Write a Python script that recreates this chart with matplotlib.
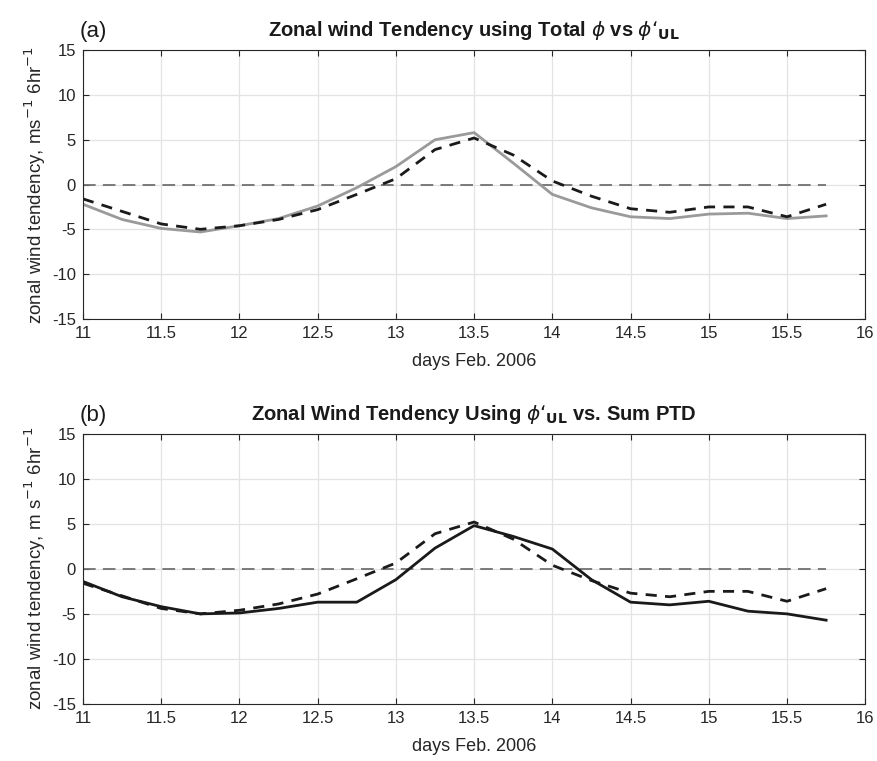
import numpy as np
import matplotlib
matplotlib.use("Agg")
import matplotlib.pyplot as plt

plt.rcParams['font.family'] = ['Liberation Sans', 'DejaVu Sans']
plt.rcParams['axes.unicode_minus'] = False

# days of Feb. 2006, 6-hourly
days = [11.0, 11.25, 11.5, 11.75, 12.0, 12.25, 12.5, 12.75, 13.0, 13.25,
        13.5, 13.75, 14.0, 14.25, 14.5, 14.75, 15.0, 15.25, 15.5, 15.75]

# tendency from total phi (grey solid, panel a)
total_phi = [-2.2, -3.9, -4.9, -5.3, -4.6, -3.8, -2.4, -0.35, 2.0, 5.0,
             5.8, 2.4, -1.1, -2.6, -3.6, -3.8, -3.3, -3.2, -3.8, -3.5]
# tendency from phi'_UL (black dashed, both panels)
phi_ul = [-1.6, -3.0, -4.4, -5.0, -4.6, -3.9, -2.8, -1.1, 0.65, 3.9,
          5.2, 3.3, 0.4, -1.3, -2.7, -3.1, -2.5, -2.5, -3.6, -2.2]
# sum of piecewise tendencies (black solid, panel b)
sum_ptd = [-1.4, -3.1, -4.2, -5.0, -4.9, -4.4, -3.7, -3.7, -1.2, 2.3,
           4.8, 3.6, 2.2, -1.2, -3.7, -4.0, -3.6, -4.7, -5.0, -5.7]

xticks = np.arange(11, 16.01, 0.5)
xticklabels = ['11', '11.5', '12', '12.5', '13', '13.5', '14', '14.5', '15', '15.5', '16']
yticks = [-15, -10, -5, 0, 5, 10, 15]

fig = plt.figure(figsize=(8.77, 7.61), dpi=100)
ax1 = fig.add_axes([0.0946, 0.581, 0.892, 0.353])
ax2 = fig.add_axes([0.0946, 0.075, 0.892, 0.355])


def style(ax, ylabel, title, tag):
    ax.set_xlim(11, 16)
    ax.set_ylim(-15, 15)
    ax.set_xticks(xticks)
    ax.set_xticklabels(xticklabels)
    ax.set_yticks(yticks)
    ax.grid(True, color='#e3e3e3', lw=0.9)
    ax.set_axisbelow(True)
    ax.tick_params(direction='in', top=True, right=True, length=4,
                   width=0.8, color='#262626', labelsize=12,
                   labelcolor='#262626')
    ax.tick_params(axis='x', pad=5)
    ax.tick_params(axis='y', pad=5)
    for s in ax.spines.values():
        s.set_color('#262626')
        s.set_linewidth(0.8)
    ax.set_xlabel('days Feb. 2006', fontsize=13, color='#262626', labelpad=9)
    ax.set_ylabel(ylabel, fontsize=13.5, color='#262626', labelpad=3)
    ax.set_title(title, fontsize=14.5, fontweight='bold', pad=10,
                 color='#1a1a1a')
    ax.text(0.013, 1.048, tag, transform=ax.transAxes, fontsize=16,
            ha='center', va='baseline', color='#1a1a1a')
    # zero reference line
    ax.plot(days, np.zeros(len(days)), color='#707070', lw=1.3,
            dashes=(7, 4), zorder=1.5)


style(ax1, r'zonal wind tendency, ms$^{-1}$ 6hr$^{-1}$',
      r'Zonal wind Tendency using Total $\phi$ vs $\phi$‘$_{\mathbf{UL}}$', '(a)')
ax1.plot(days, total_phi, color='#9a9a9a', lw=2.0)
ax1.plot(days, phi_ul, color='#1a1a1a', lw=2.0, dashes=(4, 3))

style(ax2, r'zonal wind tendency, m s$^{-1}$ 6hr$^{-1}$',
      r'Zonal Wind Tendency Using $\phi$‘$_{\mathbf{UL}}$ vs. Sum PTD', '(b)')
ax2.plot(days, sum_ptd, color='#1a1a1a', lw=2.0)
ax2.plot(days, phi_ul, color='#1a1a1a', lw=2.0, dashes=(4, 3))

fig.savefig('out.png', dpi=100)
